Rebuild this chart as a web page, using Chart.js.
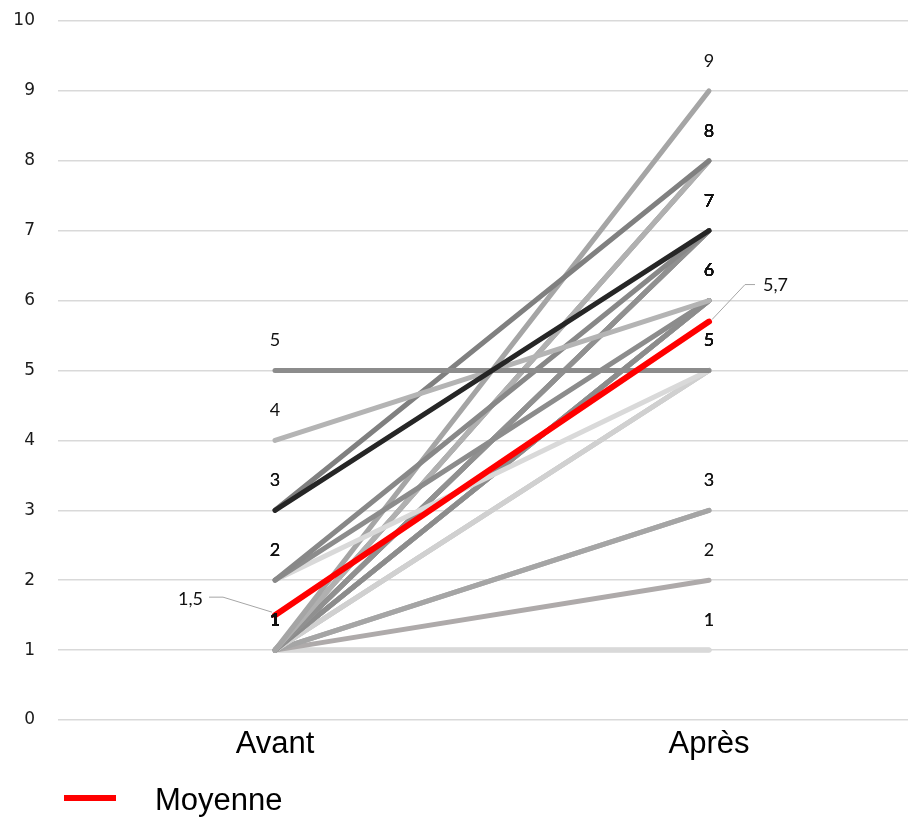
<!DOCTYPE html>
<html><head><meta charset="utf-8">
<script src="https://cdn.jsdelivr.net/npm/chart.js@4/dist/chart.umd.min.js"></script>
<style>html,body{margin:0;padding:0;background:#fff}#wrap{width:912px;height:818px}</style>
</head><body><div id="wrap"><canvas id="c"></canvas></div>
<script>
const categories = ['Avant', 'Après'];
const avant = [5,4,3,3,2,2,2,1,1,1,1,1,1,1,1,1,1,1,1,1,1,1,1,1,1,1,1,1];
const apres = [5,6,7,8,7,6,5,9,8,8,8,7,7,7,7,6,6,6,6,6,5,5,5,3,3,2,1,1];
const moyenne = [1.5, 5.7];
const yTicks = [0,1,2,3,4,5,6,7,8,9,10];
const seriesColors = ['#8c8c8c','#b4b4b4','#262626','#808080','#888888','#8c8c8c','#d9d9d9',
  '#a5a5a5','#b0b0b0','#a8a8a8','#9a9a9a','#909090','#a0a0a0','#7f7f7f','#a5a5a5',
  '#8c8c8c','#9a9a9a','#a5a5a5','#b4b4b4','#7f7f7f','#d0d0d0','#c8c8c8','#dadada',
  '#a5a5a5','#a8a8a8','#aeaaaa','#d9d9d9','#d0d0d0'];

const datasets = [{
  label: 'Moyenne', isMean: true,
  data: moyenne.map((v,i)=>({x:i,y:v})),
  borderColor: '#ff0000', borderWidth: 6, borderCapStyle: 'round', pointRadius: 0, order: 0
}];
avant.forEach((v,k)=>{
  datasets.push({
    label: 'S' + (k+1),
    data: [{x:0,y:v},{x:1,y:apres[k]}],
    borderColor: seriesColors[k], borderWidth: 5, borderCapStyle: 'round',
    pointRadius: 0, order: seriesColors[k] === '#262626' ? 1 : 2
  });
});

const fmt = v => String(v).replace('.', ',');

const labelsPlugin = {
  id: 'valueLabels',
  afterDatasetsDraw(chart) {
    const ctx = chart.ctx;
    ctx.save();
    ctx.font = '18px Lato';
    ctx.fillStyle = '#111';
    ctx.textBaseline = 'middle';
    ctx.textAlign = 'center';
    chart.data.datasets.forEach((ds, i) => {
      if (ds.isMean) return;
      chart.getDatasetMeta(i).data.forEach((pt, j) => {
        ctx.fillText(fmt(ds.data[j].y), pt.x, pt.y - 30);
      });
    });
    const mi = chart.data.datasets.findIndex(d => d.isMean);
    const pts = chart.getDatasetMeta(mi).data;
    const md = chart.data.datasets[mi].data;
    ctx.strokeStyle = '#a6a6a6';
    ctx.lineWidth = 1;
    let p = pts[0];
    ctx.beginPath();
    ctx.moveTo(p.x - 66, p.y - 18); ctx.lineTo(p.x - 52, p.y - 18); ctx.lineTo(p.x - 3, p.y - 3);
    ctx.stroke();
    ctx.textAlign = 'right';
    ctx.fillText(fmt(md[0].y), p.x - 72, p.y - 16);
    p = pts[1];
    ctx.beginPath();
    ctx.moveTo(p.x + 46, p.y - 37); ctx.lineTo(p.x + 36, p.y - 37); ctx.lineTo(p.x + 3, p.y - 2);
    ctx.stroke();
    ctx.textAlign = 'left';
    ctx.fillText(fmt(md[1].y), p.x + 54, p.y - 36);
    ctx.restore();
  },
  afterDraw(chart) {
    const ctx = chart.ctx;
    const ds = chart.data.datasets.find(d => d.isMean);
    ctx.save();
    ctx.strokeStyle = ds.borderColor;
    ctx.lineWidth = 6;
    ctx.beginPath(); ctx.moveTo(64, 798); ctx.lineTo(116, 798); ctx.stroke();
    ctx.font = '31px "Liberation Sans", Arial';
    ctx.fillStyle = '#000';
    ctx.textBaseline = 'middle';
    ctx.textAlign = 'left';
    ctx.fillText(ds.label, 155, 801);
    ctx.restore();
  }
};

new Chart(document.getElementById('c'), {
  type: 'line',
  data: { datasets },
  plugins: [labelsPlugin],
  options: {
    responsive: true, maintainAspectRatio: false, animation: false,
    layout: { padding: { top: 21, right: 4, left: 0, bottom: 0 } },
    plugins: { legend: { display: false }, tooltip: { enabled: false } },
    scales: {
      x: {
        type: 'linear', min: -0.5, max: 1.4585,
        afterBuildTicks: s => { s.ticks = categories.map((c,i)=>({value:i})); },
        afterFit: s => { s.height = 98; },
        grid: { display: false, drawTicks: false },
        border: { display: false },
        ticks: { callback: v => categories[v], font: { family: '"Liberation Sans", Arial', size: 31 }, color: '#000', padding: 6, autoSkip: false, maxRotation: 0 }
      },
      y: {
        min: 0, max: 10,
        afterBuildTicks: s => { s.ticks = yTicks.map(v=>({value:v})); },
        afterFit: s => { s.width = 58; s.paddingTop = 10; s.paddingBottom = 10; },
        grid: { color: '#d9d9d9', lineWidth: 1.5, drawTicks: false },
        border: { display: false },
        ticks: { font: { family: '"DejaVu Sans"', size: 17 }, color: '#1a1a1a', padding: 23 }
      }
    }
  }
});
</script>
</body></html>
